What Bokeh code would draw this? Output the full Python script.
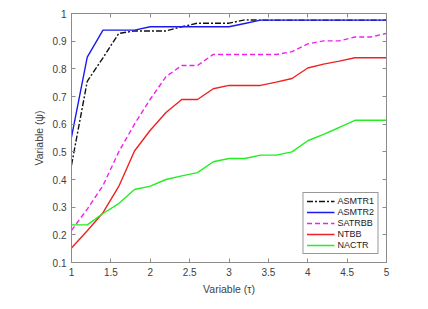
from bokeh.plotting import figure
from bokeh.models import LinearAxis, FixedTicker, Range1d, Legend, LegendItem
from bokeh.embed import file_html
from bokeh.resources import INLINE

x = [1.0, 1.2, 1.4, 1.6, 1.8, 2.0, 2.2, 2.4, 2.6, 2.8, 3.0, 3.2, 3.4, 3.6, 3.8, 4.0, 4.2, 4.4, 4.6, 4.8, 5.0]
asmtr1 = [0.452, 0.755, 0.84, 0.928, 0.937, 0.937, 0.937, 0.952, 0.965, 0.965, 0.965, 0.977, 0.976, 0.976, 0.976, 0.976, 0.976, 0.976, 0.976, 0.976, 0.976]
asmtr2 = [0.553, 0.842, 0.940, 0.940, 0.940, 0.952, 0.952, 0.952, 0.952, 0.952, 0.952, 0.964, 0.976, 0.976, 0.976, 0.976, 0.976, 0.976, 0.976, 0.976, 0.976]
satrbb = [0.216, 0.293, 0.378, 0.50, 0.60, 0.69, 0.772, 0.812, 0.812, 0.852, 0.852, 0.852, 0.852, 0.852, 0.862, 0.89, 0.901, 0.901, 0.915, 0.915, 0.928]
ntbb = [0.152, 0.215, 0.28, 0.375, 0.503, 0.578, 0.642, 0.689, 0.689, 0.728, 0.740, 0.740, 0.740, 0.752, 0.765, 0.803, 0.817, 0.828, 0.840, 0.840, 0.840]
nactr = [0.236, 0.236, 0.277, 0.313, 0.364, 0.376, 0.400, 0.413, 0.425, 0.464, 0.476, 0.476, 0.488, 0.488, 0.500, 0.540, 0.563, 0.588, 0.614, 0.614, 0.614]

names = ["ASMTR1", "ASMTR2", "SATRBB", "NTBB", "NACTR"]
x_ticks = [1, 1.5, 2, 2.5, 3, 3.5, 4, 4.5, 5]
y_ticks = [0.1, 0.2, 0.3, 0.4, 0.5, 0.6, 0.7, 0.8, 0.9, 1.0]

FONT = "Liberation Sans"
AX = "#8c8c8c"
TXT = "#404040"

p = figure(width=420, height=301, output_backend="svg", toolbar_location=None,
           x_range=Range1d(1, 5), y_range=Range1d(0.1, 1.0),
           min_border_left=71, min_border_right=34, min_border_top=13, min_border_bottom=39)
p.grid.visible = False
p.outline_line_color = AX
p.background_fill_color = "white"
p.border_fill_color = "white"

for ax, ticks in ((p.xaxis[0], x_ticks), (p.yaxis[0], y_ticks)):
    ax.ticker = FixedTicker(ticks=ticks)
    ax.major_tick_in = 4
    ax.major_tick_out = 0
    ax.minor_tick_line_color = None
    ax.axis_line_color = AX
    ax.major_tick_line_color = AX
    ax.major_label_text_font = FONT
    ax.major_label_text_font_size = "10px"
    ax.major_label_text_color = TXT
    ax.axis_label_text_font = FONT
    ax.axis_label_text_font_size = "10.5px"
    ax.axis_label_text_font_style = "normal"
    ax.axis_label_text_color = TXT
p.xaxis[0].major_label_overrides = {1: "1", 2: "2", 3: "3", 4: "4", 5: "5"}
p.yaxis[0].major_label_overrides = {1.0: "1"}
p.xaxis[0].axis_label = "Variable (τ)"
p.yaxis[0].axis_label = "Variable (ψ)"
p.xaxis[0].major_label_standoff = 5
p.yaxis[0].major_label_standoff = 5
p.xaxis[0].axis_label_standoff = 4
p.yaxis[0].axis_label_standoff = 5

for loc, ticks in (("above", x_ticks), ("right", y_ticks)):
    a = LinearAxis(ticker=FixedTicker(ticks=ticks), major_tick_in=4, major_tick_out=0,
                   minor_tick_line_color=None, axis_line_color=AX, major_tick_line_color=AX,
                   major_label_text_font_size="0px", major_label_standoff=0,
                   major_label_overrides={t: "" for t in ticks})
    p.add_layout(a, loc)

r1 = p.line(x, asmtr1, line_color="#111111", line_width=1.4, line_dash="6 2 2 2")
r2 = p.line(x, asmtr2, line_color="#1a1aee", line_width=1.4)
r3 = p.line(x, satrbb, line_color="#f020f0", line_width=1.4, line_dash="5 3")
r4 = p.line(x, ntbb, line_color="#ee2222", line_width=1.4)
r5 = p.line(x, nactr, line_color="#22ee22", line_width=1.4)

legend = Legend(items=[LegendItem(label=n, renderers=[r]) for n, r in zip(names, [r1, r2, r3, r4, r5])],
                location="bottom_right")
legend.label_text_font = FONT
legend.label_text_font_size = "9px"
legend.label_text_color = "#222222"
legend.glyph_width = 28
legend.glyph_height = 10
legend.label_height = 10
legend.label_standoff = 3
legend.spacing = 1
legend.padding = 3
legend.margin = 8
legend.border_line_color = "#333333"
legend.border_line_width = 1
legend.background_fill_color = "white"
p.add_layout(legend, "center")

open("out.html", "w").write(file_html(p, INLINE))
